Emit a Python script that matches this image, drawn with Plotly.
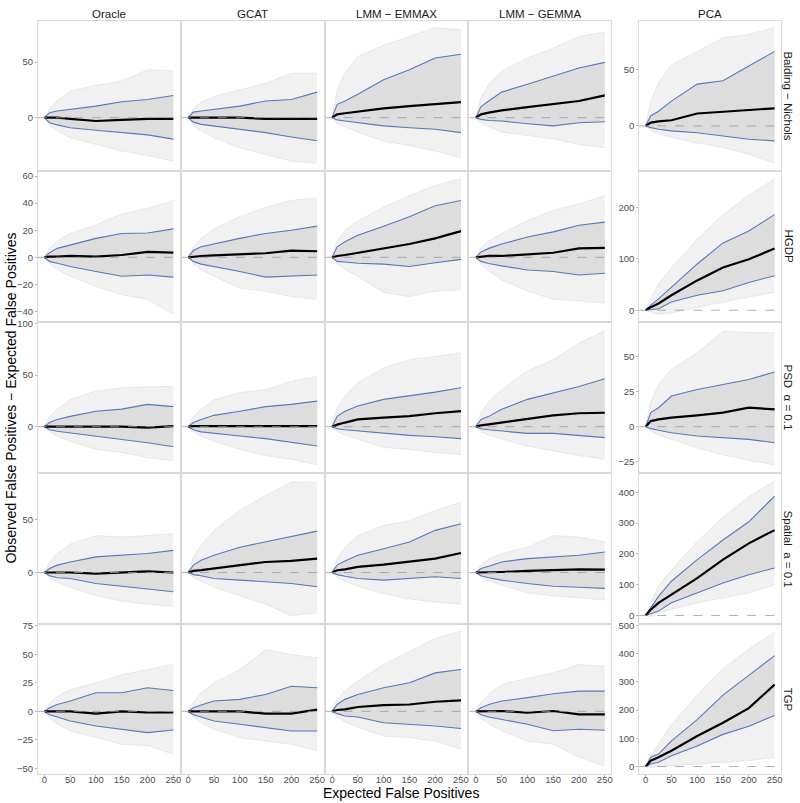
import plotly.graph_objects as go

# ---------------- data ----------------
X_VALUES = [0, 10, 25, 50, 100, 150, 200, 250]
METHODS = ["Oracle", "GCAT", "LMM − EMMAX", "LMM − GEMMA", "PCA"]
SCENARIOS = ["Balding − Nichols", "HGDP", "PSD  α = 0.1", "Spatial  a = 0.1", "TGP"]
X_TICKS = [0, 50, 100, 150, 200, 250]

# Each list holds one series per method (Oracle, GCAT, EMMAX, GEMMA, PCA)
BN_MEAN = [[0, 0, 0, -1, -3, -2, -1, -1], [0, 0, 0, 0, 0, -1, -1, -1], [0, 3, 4, 5.4, 8.3, 10.4, 12.5, 14],
           [0, 3, 4.5, 6.5, 9.5, 12, 15, 20], [0, 3, 4, 5, 11, 12.6, 13.8, 15.6]]
BN_HI = [[0, 4.5, 6, 7.5, 10.4, 14.3, 16.4, 20], [0, 5, 6, 7.5, 10.4, 15, 16.4, 23], [0, 12, 15, 21, 34, 43, 53.6, 57],
         [0, 10, 15, 23, 30, 37, 44.6, 49.7], [0, 9, 13, 22, 37, 40, 53, 66]]
BN_LO = [[0, -4.5, -6.5, -9, -11.3, -13.4, -15.5, -19.3], [0, -4, -6, -7.4, -10.4, -13.4, -17.3, -20.8],
         [0, -2, -3, -4.5, -7.4, -9, -10.4, -13.4], [0, -1.5, -2.5, -3, -5.4, -7.4, -4.5, -3.6],
         [0, -1.5, -3, -4.4, -6, -8.8, -11.8, -13.2]]
BN_MAX = [[0, 8, 15, 24, 29, 33, 43, 42], [0, 8, 14, 19, 25, 31, 40, 40], [0, 25, 40, 55, 65, 73, 81, 79],
          [0, 18, 30, 41.7, 53.6, 62.5, 73, 77], [0, 22, 38, 54, 66, 78, 81, 87]]
BN_MIN = [[0, -7, -12, -18, -24, -30, -34, -39], [0, -7, -12, -18, -27, -33, -39, -41], [0, -5, -8, -13, -21, -25, -30, -36],
          [0, -5, -8, -13, -16, -19, -24, -27], [0, -4, -7, -10, -15, -19, -25, -33]]

HGDP_MEAN = [[0, 0.5, 0.5, 1, 0.5, 1.7, 4, 3.4], [0, 0.5, 1, 1.5, 2.5, 3, 5, 4.5], [0, 1, 1.7, 3.4, 6.6, 9.8, 14, 19.3],
             [0, 0.5, 1, 1, 2.4, 3.4, 6.6, 7], [0, 6, 13, 29, 58, 83, 99, 120]]
HGDP_HI = [[0, 3.4, 6.6, 9, 14, 17.6, 18, 21], [0, 5, 7.8, 10, 14, 17.6, 20, 23], [0, 7.8, 11.5, 16.3, 23, 30, 38, 42],
           [0, 4, 6.6, 9.8, 15, 18.8, 23.7, 26], [0, 10, 22, 45, 90, 131, 154, 186]]
HGDP_LO = [[0, -3, -4.4, -6.8, -10.5, -14, -13, -14.6], [0, -3, -5, -6.8, -10.5, -14.6, -13.7, -13],
           [0, -3, -3.5, -4.4, -5, -6.8, -4, -1.5], [0, -3, -4.5, -6.3, -9.3, -10.5, -13, -11.7],
           [0, 1, 3, 16, 29, 38, 54, 67]]
HGDP_MAX = [[0, 7, 12, 17.5, 24, 32, 36, 42], [0, 8, 14, 21, 30, 37, 42, 44], [0, 12, 20, 27, 37, 45.6, 53, 58],
            [0, 7, 12, 17.5, 27, 34.6, 39.5, 45.6], [0, 22, 51, 83, 138, 186, 224, 255]]
HGDP_MIN = [[0, -5, -9, -14, -21.5, -27.5, -31, -42], [0, -5, -9, -14, -22.7, -25, -29, -31],
            [0, -5, -9, -14, -26, -29, -25, -24], [0, -5, -10, -16.6, -25, -31, -32, -33.7],
            [0, -3, -8, -5, 6, 16, 26, 35]]

PSD_MEAN = [[0, 0, 0, 0, 0, 0, -1, 0.5], [0, 0.5, 0.5, 0.5, 0, 0, 0, 0.5], [0, 2, 4, 7, 8.7, 10.3, 13, 15],
            [0, 1.3, 2.3, 4, 7.7, 11, 13, 13.5], [0, 4, 5.2, 6.4, 8, 10, 13.5, 12.3]]
PSD_HI = [[0, 4, 7, 10, 15, 17, 21.6, 19.4], [0, 4, 7, 11, 15, 19.4, 21.6, 24.8], [0, 10, 15, 20, 26.5, 29.7, 33.5, 37.7],
          [0, 7, 10, 16.8, 26.5, 33, 39, 46.5], [0, 10, 13.5, 21.8, 26.5, 30, 33.6, 38.9]]
PSD_LO = [[0, -3, -4.5, -6, -9, -12, -15.5, -19.4], [0, -3, -5, -6.5, -9, -11.6, -15, -18.7],
          [0, -2, -3, -4.2, -6.5, -8.4, -9.7, -11.6], [0, -2, -3, -4.2, -6.5, -6.5, -8.4, -10.6],
          [0, -1.4, -2.5, -4.3, -6.6, -7.8, -9, -11.4]]
PSD_MAX = [[0, 10, 17, 26, 34.5, 37.7, 38.7, 39], [0, 10, 17, 26, 33, 36, 44, 49], [0, 18, 30, 42.6, 57, 65, 68, 71.6],
           [0, 14, 24, 36, 54, 65, 81, 93], [0, 18, 30, 40.8, 52.6, 68, 67, 66.8]]
PSD_MIN = [[0, -5, -9, -14, -22, -25, -30, -33], [0, -5, -9, -14, -22, -28, -31.6, -37], [0, -5, -8, -12, -20, -22, -25, -27],
           [0, -5, -8, -12, -18.7, -23.5, -28, -31.6], [0, -3, -6, -9, -15, -20, -24, -27]]

SP_MEAN = [[0, 0, 0, 0, -1, 0, 1, 0], [0, 1.6, 2.2, 3.8, 7, 10, 11, 13.2], [0, 2.2, 3, 5.3, 7.5, 10, 13.2, 18.5],
           [0, 0, 0, 0.5, 1.5, 2.2, 3, 2.8], [0, 19, 41, 68, 121, 181, 234, 277]]
SP_HI = [[0, 3.8, 7, 10, 14.8, 16.4, 18, 21], [0, 7, 11.6, 16.4, 24, 29, 33.6, 39.3], [0, 7, 11, 16.4, 22.6, 29, 40, 46.2],
         [0, 3.8, 6, 10, 13.2, 14.8, 16.4, 19.5], [0, 25, 62, 111, 181, 245, 304, 387]]
SP_LO = [[0, -3, -5, -5.7, -10.4, -13, -16, -18.2], [0, -2, -3, -5.7, -7.2, -8.8, -10.4, -13.5],
         [0, -2, -3.5, -5.7, -7.2, -5.7, -4, -5.7], [0, -3, -5, -7.2, -10.4, -13, -14, -15],
         [0, 5, 14, 41, 73, 105, 132, 154]]
SP_MAX = [[0, 10, 18, 27, 35, 33.6, 35, 36.8], [0, 14, 26, 40, 59, 73, 86, 85], [0, 13, 24, 35, 44.6, 49, 59, 66.7],
          [0, 7, 13, 18, 24, 35, 33.6, 29], [0, 41, 95, 148, 240, 320, 385, 437]]
SP_MIN = [[0, -5, -9, -14, -22, -27, -30, -32], [0, -5, -8, -14, -22, -30, -41, -38], [0, -5, -8, -13, -20, -25, -28, -30],
          [0, -5, -8, -12, -19, -22, -24, -26], [0, -3, 9, 19, 41, 57, 73, 100]]

TGP_MEAN = [[0, 0, 0, 0, -2, 0, -1, -1], [0, 0, 0, 0, 0, -2, -2, 1.5], [0, 1.2, 1.7, 3.8, 5.5, 6, 8.4, 9.6],
            [0, 0, 0, 0.3, -1.2, 0.3, -2.6, -2.6], [0, 21, 33, 56, 108, 155, 207, 290]]
TGP_HI = [[0, 3.2, 6, 9, 16.3, 16.3, 20.6, 18.3], [0, 3.2, 5.5, 9, 10.5, 14.8, 22, 20.6], [0, 6, 10.5, 14.8, 20.6, 25, 33.7, 36.6],
          [0, 3.2, 6, 9, 12, 15.4, 17.7, 17.7], [0, 33, 44, 91, 166, 253, 323, 393]]
TGP_LO = [[0, -3, -5, -8.4, -12.8, -15.7, -18.6, -16.3], [0, -3, -5, -8.4, -11.3, -14.2, -17.2, -17.2],
          [0, -2, -4, -5, -10, -11.3, -12.8, -15], [0, -3, -5, -7, -11.3, -17, -15.7, -16.6],
          [0, 9, 15, 38, 73, 114, 143, 181]]
TGP_MAX = [[0, 7, 13, 19, 25, 32, 36.6, 41], [0, 8, 16, 25, 36.6, 54, 49.7, 46.8], [0, 10, 18, 26.5, 41, 52.6, 64, 70],
           [0, 8, 15, 23.5, 29, 33.7, 41, 39.5], [0, 38, 80, 149, 253, 347, 416, 477]]
TGP_MIN = [[0, -6, -11, -17, -23, -28.8, -30, -37.5], [0, -5, -10, -15.7, -23, -26, -28.8, -34.6],
           [0, -5, -9, -14, -21.5, -23, -26, -33], [0, -6, -11, -17, -26, -28.8, -40, -48],
           [0, -3, 1, 3, 9, 15, 21, 33]]

ROW_DATA = [
    (BN_MEAN, BN_HI, BN_LO, BN_MAX, BN_MIN),
    (HGDP_MEAN, HGDP_HI, HGDP_LO, HGDP_MAX, HGDP_MIN),
    (PSD_MEAN, PSD_HI, PSD_LO, PSD_MAX, PSD_MIN),
    (SP_MEAN, SP_HI, SP_LO, SP_MAX, SP_MIN),
    (TGP_MEAN, TGP_HI, TGP_LO, TGP_MAX, TGP_MIN),
]

Y_TICKS_SHARED = [[0, 50], [-40, -20, 0, 20, 40, 60], [0, 50, 100], [0, 50], [-50, -25, 0, 25, 50, 75]]
Y_TICKS_PCA = [[0, 50], [0, 100, 200], [-25, 0, 25, 50], [0, 100, 200, 300, 400], [0, 100, 200, 300, 400, 500]]

# ---------------- layout constants ----------------
W, H = 800, 803
COL_PX = [(38, 180), (182, 324), (326, 468), (470, 612), (640, 782)]
ROW_PX = [(16, 166), (168, 318), (320, 470), (472, 622), (624, 774)]
X_RANGE = [-12.5, 262.5]
Y_RANGE_SHARED = [[-47, 87], [-47, 63], [-44, 100.5], [-48, 93.4], [-55, 75.5]]
Y_RANGE_PCA = [[-39, 93], [-21, 269], [-32.3, 73.8], [-25, 459], [-27, 501]]

FONT = "Liberation Sans, Arial, Helvetica, sans-serif"
BLUE = "#5379bf"
BORDER = "#d9d9d9"

fig = go.Figure()
layout = dict(
    width=W, height=H, margin=dict(l=0, r=0, t=0, b=0),
    paper_bgcolor="white", plot_bgcolor="white", showlegend=False,
    font=dict(family=FONT, color="#000000"),
)
shapes = []
annotations = []

for r in range(5):
    means, his, los, maxs, mins = ROW_DATA[r]
    for c in range(5):
        i = r * 5 + c + 1
        xn = "x" if i == 1 else f"x{i}"
        yn = "y" if i == 1 else f"y{i}"
        xk = "xaxis" if i == 1 else f"xaxis{i}"
        yk = "yaxis" if i == 1 else f"yaxis{i}"
        x0, x1 = COL_PX[c]
        y0, y1 = ROW_PX[r]
        bottom = r == 4
        left = c == 0 or c == 4
        layout[xk] = dict(
            domain=[x0 / W, x1 / W], range=X_RANGE, anchor=yn,
            showgrid=False, zeroline=False, showline=True, mirror=True,
            linecolor=BORDER, linewidth=1,
            tickvals=X_TICKS, showticklabels=bottom,
            ticks="outside" if bottom else "", ticklen=2, tickcolor="#b3b3b3",
            ticklabelstandoff=-6,
            tickfont=dict(size=9.5, color="#4d4d4d", family=FONT),
        )
        yr = Y_RANGE_PCA[r] if c == 4 else Y_RANGE_SHARED[r]
        yt = Y_TICKS_PCA[r] if c == 4 else Y_TICKS_SHARED[r]
        layout[yk] = dict(
            domain=[1 - y1 / H, 1 - y0 / H], range=yr, anchor=xn,
            showgrid=False, zeroline=False, showline=True, mirror=True,
            linecolor=BORDER, linewidth=1,
            tickvals=yt, showticklabels=left,
            ticks="outside" if left else "", ticklen=2, tickcolor="#b3b3b3",
            tickfont=dict(size=9.5, color="#4d4d4d", family=FONT),
        )
        mean, hi, lo, mx, mn = means[c], his[c], los[c], maxs[c], mins[c]
        common = dict(xaxis=xn, yaxis=yn, hoverinfo="skip", showlegend=False)
        # envelope of all replicate curves
        fig.add_trace(go.Scatter(x=X_VALUES + X_VALUES[::-1], y=mx + mn[::-1], mode="lines",
                                 fill="toself", fillcolor="#f1f1f1", line=dict(width=0), **common))
        fig.add_trace(go.Scatter(x=X_VALUES, y=mx, mode="lines", line=dict(color="#e2e2e2", width=0.8), **common))
        fig.add_trace(go.Scatter(x=X_VALUES, y=mn, mode="lines", line=dict(color="#e2e2e2", width=0.8), **common))
        # dense core between quantiles
        fig.add_trace(go.Scatter(x=X_VALUES + X_VALUES[::-1], y=hi + lo[::-1], mode="lines",
                                 fill="toself", fillcolor="#dddddd", line=dict(width=0), **common))
        fig.add_trace(go.Scatter(x=X_VALUES, y=hi, mode="lines", line=dict(color=BLUE, width=1.1), **common))
        fig.add_trace(go.Scatter(x=X_VALUES, y=lo, mode="lines", line=dict(color=BLUE, width=1.1), **common))
        fig.add_trace(go.Scatter(x=X_VALUES, y=mean, mode="lines", line=dict(color="black", width=2.2), **common))
        shapes.append(dict(type="line", xref=f"{xn} domain", x0=0, x1=1, yref=yn, y0=0, y1=0,
                           line=dict(color="#999999", width=0.8, dash="dash"), layer="above"))

# strip labels
for c, name in enumerate(METHODS):
    cx = (COL_PX[c][0] + COL_PX[c][1]) / 2 / W
    annotations.append(dict(text=name, x=cx, y=1 - 9 / H, xref="paper", yref="paper",
                            showarrow=False, xanchor="center", yanchor="middle",
                            font=dict(size=11.5, color="#1a1a1a", family=FONT)))
for r, name in enumerate(SCENARIOS):
    cy = 1 - (ROW_PX[r][0] + ROW_PX[r][1]) / 2 / H
    annotations.append(dict(text=name, x=789 / W, y=cy, xref="paper", yref="paper",
                            showarrow=False, xanchor="center", yanchor="middle", textangle=90,
                            font=dict(size=11.5, color="#1a1a1a", family=FONT)))
# axis titles
annotations.append(dict(text="Expected False Positives", x=402 / W, y=1 - 793 / H, xref="paper", yref="paper",
                        showarrow=False, xanchor="center", yanchor="middle",
                        font=dict(size=14, color="#000000", family=FONT)))
annotations.append(dict(text="Observed False Positives − Expected False Positives", x=11 / W, y=1 - 395 / H,
                        xref="paper", yref="paper", showarrow=False, xanchor="center", yanchor="middle",
                        textangle=-90, font=dict(size=14, color="#000000", family=FONT)))

layout["shapes"] = shapes
layout["annotations"] = annotations
fig.update_layout(**layout)
fig.write_html("out.html", config={"displayModeBar": False},
               post_script="document.body.style.margin='0';document.body.style.overflow='hidden';")
